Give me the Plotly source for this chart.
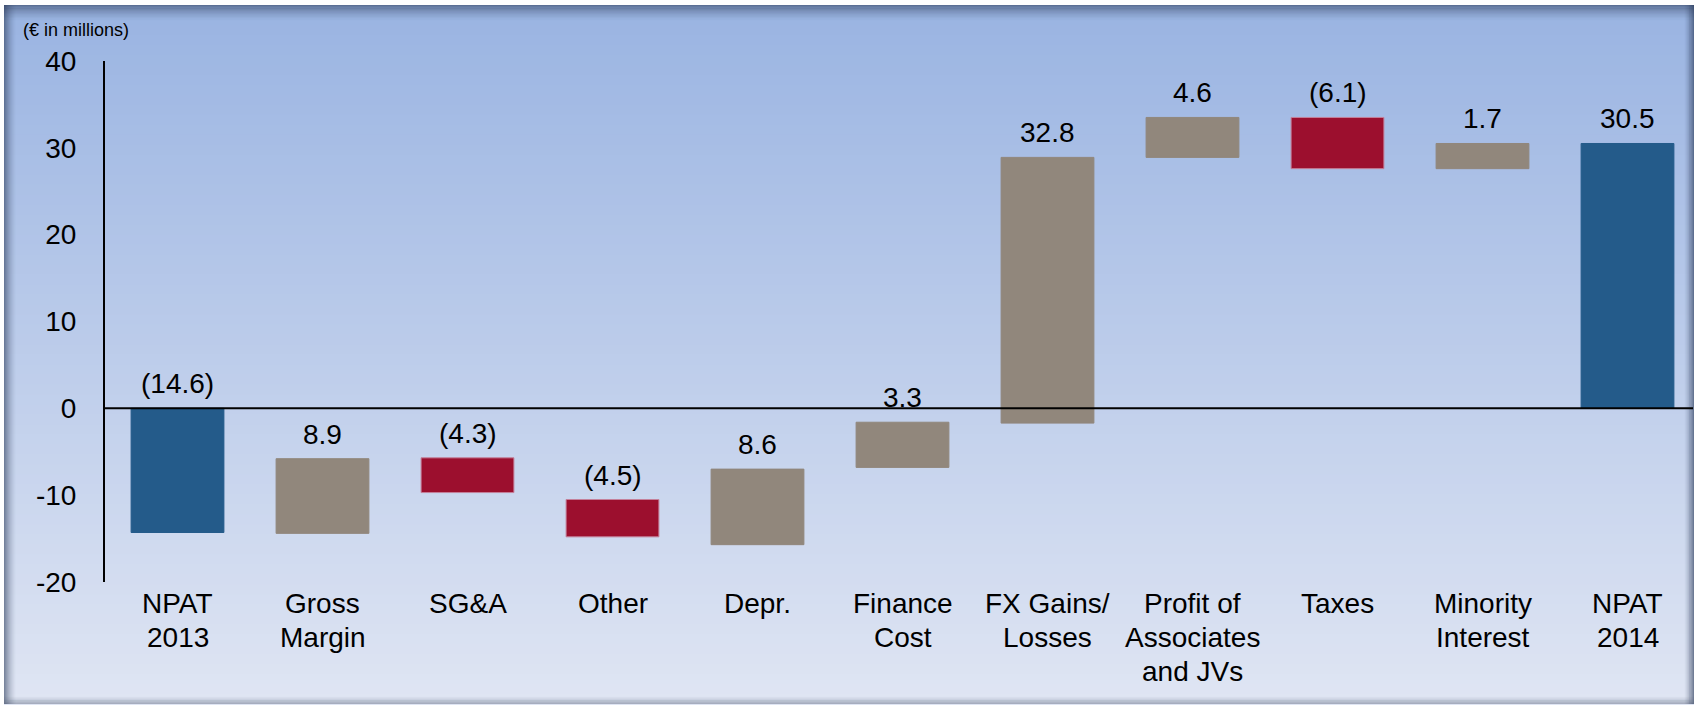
import plotly.graph_objects as go

# waterfall steps (€ in millions)
categories = ["NPAT<br>2013", "Gross<br>Margin", "SG&A", "Other", "Depr.",
              "Finance<br>Cost", "FX Gains/<br>Losses",
              "Profit of<br>Associates<br>and JVs", "Taxes",
              "Minority<br>Interest", "NPAT<br>2014"]
bar_low = [-14.3, -14.4, -9.7, -14.8, -15.7, -6.8, -1.7, 28.9, 27.6, 27.6, 0.0]
bar_high = [0.0, -5.8, -5.7, -10.5, -7.0, -1.6, 28.9, 33.5, 33.5, 30.5, 30.5]
value_labels = ["(14.6)", "8.9", "(4.3)", "(4.5)", "8.6", "3.3", "32.8",
                "4.6", "(6.1)", "1.7", "30.5"]
step_kind = ["total", "up", "down", "down", "up", "up", "up",
             "up", "down", "up", "total"]
y_ticks = [-20, -10, 0, 10, 20, 30, 40]
y_tick_text = ["-20", "-10", "0", "10", "20", "30", "40"]

COLORS = {"total": "#245b8a", "up": "#91877c", "down": "#9c0f2e"}
EDGES = {"total": "#245b8a", "up": "#91877c", "down": "#c4809a"}
FONT = "Liberation Sans, Arial, sans-serif"

# plot area in pixels (used for placing text and the decorative background)
W, H = 1700, 712
L, R, T, B = 105, 0, 61, 130
PW, PH = W - L - R, H - T - B


def px(x):
    return (x - L) / PW


def py(y):
    return (H - B - y) / PH


fig = go.Figure()
fig.add_trace(go.Bar(
    x=categories,
    y=[h - l for l, h in zip(bar_low, bar_high)],
    base=bar_low,
    marker=dict(color=[COLORS[k] for k in step_kind],
                line=dict(color=[EDGES[k] for k in step_kind], width=1)),
    hoverinfo="skip",
))

annotations = []
for cat, top, lab in zip(categories, bar_high, value_labels):
    annotations.append(dict(
        x=cat, y=top, text=lab, showarrow=False, yanchor="bottom",
        yshift=7, font=dict(size=28, color="black", family=FONT)))

# category labels, one annotation per line to get the tighter line spacing
for cat in categories:
    for j, line in enumerate(cat.split("<br>")):
        annotations.append(dict(
            x=cat, y=py(603 + 34 * j), xref="x", yref="paper", text=line,
            showarrow=False, yanchor="middle",
            font=dict(size=28, color="black", family=FONT)))

annotations.append(dict(
    x=px(21), y=py(30), xref="paper", yref="paper", text="(€ in millions)",
    showarrow=False, xanchor="left", yanchor="middle",
    font=dict(size=18, color="black", family=FONT)))

# gradient background + shadowed frame
shapes = []
top_c = (154, 180, 226)
bot_c = (223, 229, 243)
y0, y1 = 5, 704
n = 70
for i in range(n):
    a = y0 + (y1 - y0) * i / n
    b = y0 + (y1 - y0) * (i + 1) / n + 1
    t = i / (n - 1)
    c = tuple(round(top_c[j] + (bot_c[j] - top_c[j]) * t) for j in range(3))
    shapes.append(dict(type="rect", xref="paper", yref="paper", layer="below",
                       x0=px(4), x1=px(1694), y0=py(a), y1=py(b),
                       fillcolor="rgb(%d,%d,%d)" % c, line_width=0))
for k in range(12):
    op = 0.55 * (1 - k / 12) ** 1.5
    col = "rgba(40,55,85,%.3f)" % op
    # top edge
    shapes.append(dict(type="rect", xref="paper", yref="paper", layer="below",
                       x0=px(4), x1=px(1694), y0=py(5 + k * 1.3), y1=py(6.3 + k * 1.3),
                       fillcolor=col, line_width=0))
    # left edge
    shapes.append(dict(type="rect", xref="paper", yref="paper", layer="below",
                       x0=px(4 + k), x1=px(5 + k), y0=py(5), y1=py(704),
                       fillcolor=col, line_width=0))
    # right edge
    shapes.append(dict(type="rect", xref="paper", yref="paper", layer="below",
                       x0=px(1693 - k * 0.8), x1=px(1694 - k * 0.8), y0=py(5), y1=py(704),
                       fillcolor=col, line_width=0))
    # bottom edge
    shapes.append(dict(type="rect", xref="paper", yref="paper", layer="below",
                       x0=px(4), x1=px(1694), y0=py(704 - k * 0.6), y1=py(703 - k * 0.6),
                       fillcolor="rgba(90,100,120,%.3f)" % (op * 0.6), line_width=0))

# zero line stops at the inner edge of the frame
shapes.append(dict(type="line", xref="paper", yref="y", layer="above",
                   x0=0, x1=px(1693), y0=0, y1=0,
                   line=dict(color="black", width=2)))

fig.update_layout(
    width=W, height=H,
    margin=dict(l=L, r=R, t=T, b=B),
    paper_bgcolor="white",
    plot_bgcolor="rgba(0,0,0,0)",
    showlegend=False,
    bargap=0.36,
    font=dict(family=FONT, color="black"),
    annotations=annotations,
    shapes=shapes,
    xaxis=dict(
        showline=False, showgrid=False, ticks="", showticklabels=False,
        range=[-0.5, 10.5],
    ),
    yaxis=dict(
        range=[-20, 40], showgrid=False, zeroline=False,
        tickvals=y_ticks, ticktext=y_tick_text,
        showline=True, linecolor="black", linewidth=2,
        ticks="", ticklabelstandoff=21,
        tickfont=dict(size=28, family=FONT),
    ),
)

fig.write_html("out.html", config={"displayModeBar": False},
               post_script="document.body.style.margin='0px';")
